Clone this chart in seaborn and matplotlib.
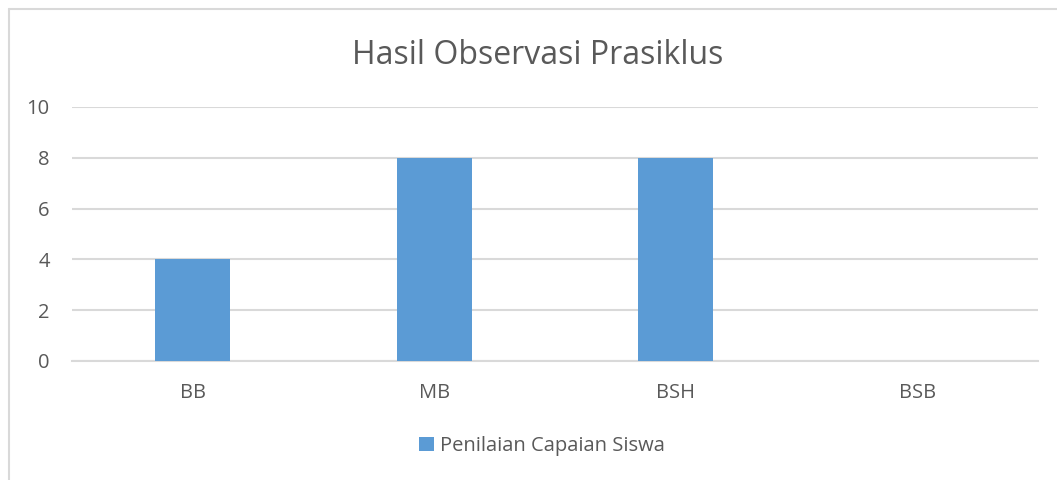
import matplotlib
matplotlib.use("Agg")
import matplotlib.pyplot as plt
import seaborn as sns
from matplotlib.lines import Line2D

categories = ["BB", "MB", "BSH", "BSB"]
values = [4, 8, 8, 0]
series_name = "Penilaian Capaian Siswa"
title = "Hasil Observasi Prasiklus"
yticks = [0, 2, 4, 6, 8, 10]

sns.set_style("white")
plt.rcParams["font.family"] = ["Open Sans", "DejaVu Sans"]
txt = "#595959"
grid = "#d9d9d9"
bar_color = "#5b9bd5"

W, H = 1057, 480
fig = plt.figure(figsize=(W / 100, H / 100), dpi=100)
ax = fig.add_axes([72 / W, (H - 361) / H, 966 / W, 254 / H])

sns.barplot(x=categories, y=values, color=bar_color, width=0.31,
            saturation=1, label=series_name, ax=ax, zorder=3, linewidth=0)

ax.set_ylim(0, 10)
ax.set_xlim(-0.5, len(categories) - 0.5)
ax.set_yticks(yticks)
ax.yaxis.grid(True, color=grid, linewidth=1.5, zorder=0)
ax.set_axisbelow(True)
for s in ["top", "right", "left"]:
    ax.spines[s].set_visible(False)
ax.spines["bottom"].set_color(grid)
ax.spines["bottom"].set_linewidth(1.5)
ax.tick_params(axis="both", length=0, labelsize=14.5, colors=txt)
ax.tick_params(axis="y", pad=16)
ax.tick_params(axis="x", pad=16)
ax.set_xlabel("")
ax.set_ylabel("")

fig.text(538 / W, (H - 55) / H, title, ha="center", va="center",
         fontsize=23, color=txt)

leg = ax.legend(loc="center", bbox_to_anchor=(542 / W, (H - 446) / H),
                bbox_transform=fig.transFigure, frameon=False,
                fontsize=14.5, handlelength=0.7, handleheight=0.7,
                handletextpad=0.3, labelcolor=txt)

# chart border (left and top edges visible)
fig.add_artist(Line2D([9 / W, 9 / W], [0, (H - 9) / H], transform=fig.transFigure,
                      color=grid, linewidth=1.5))
fig.add_artist(Line2D([9 / W, 1], [(H - 9) / H, (H - 9) / H], transform=fig.transFigure,
                      color=grid, linewidth=1.5))

fig.savefig("out.png", dpi=100)
